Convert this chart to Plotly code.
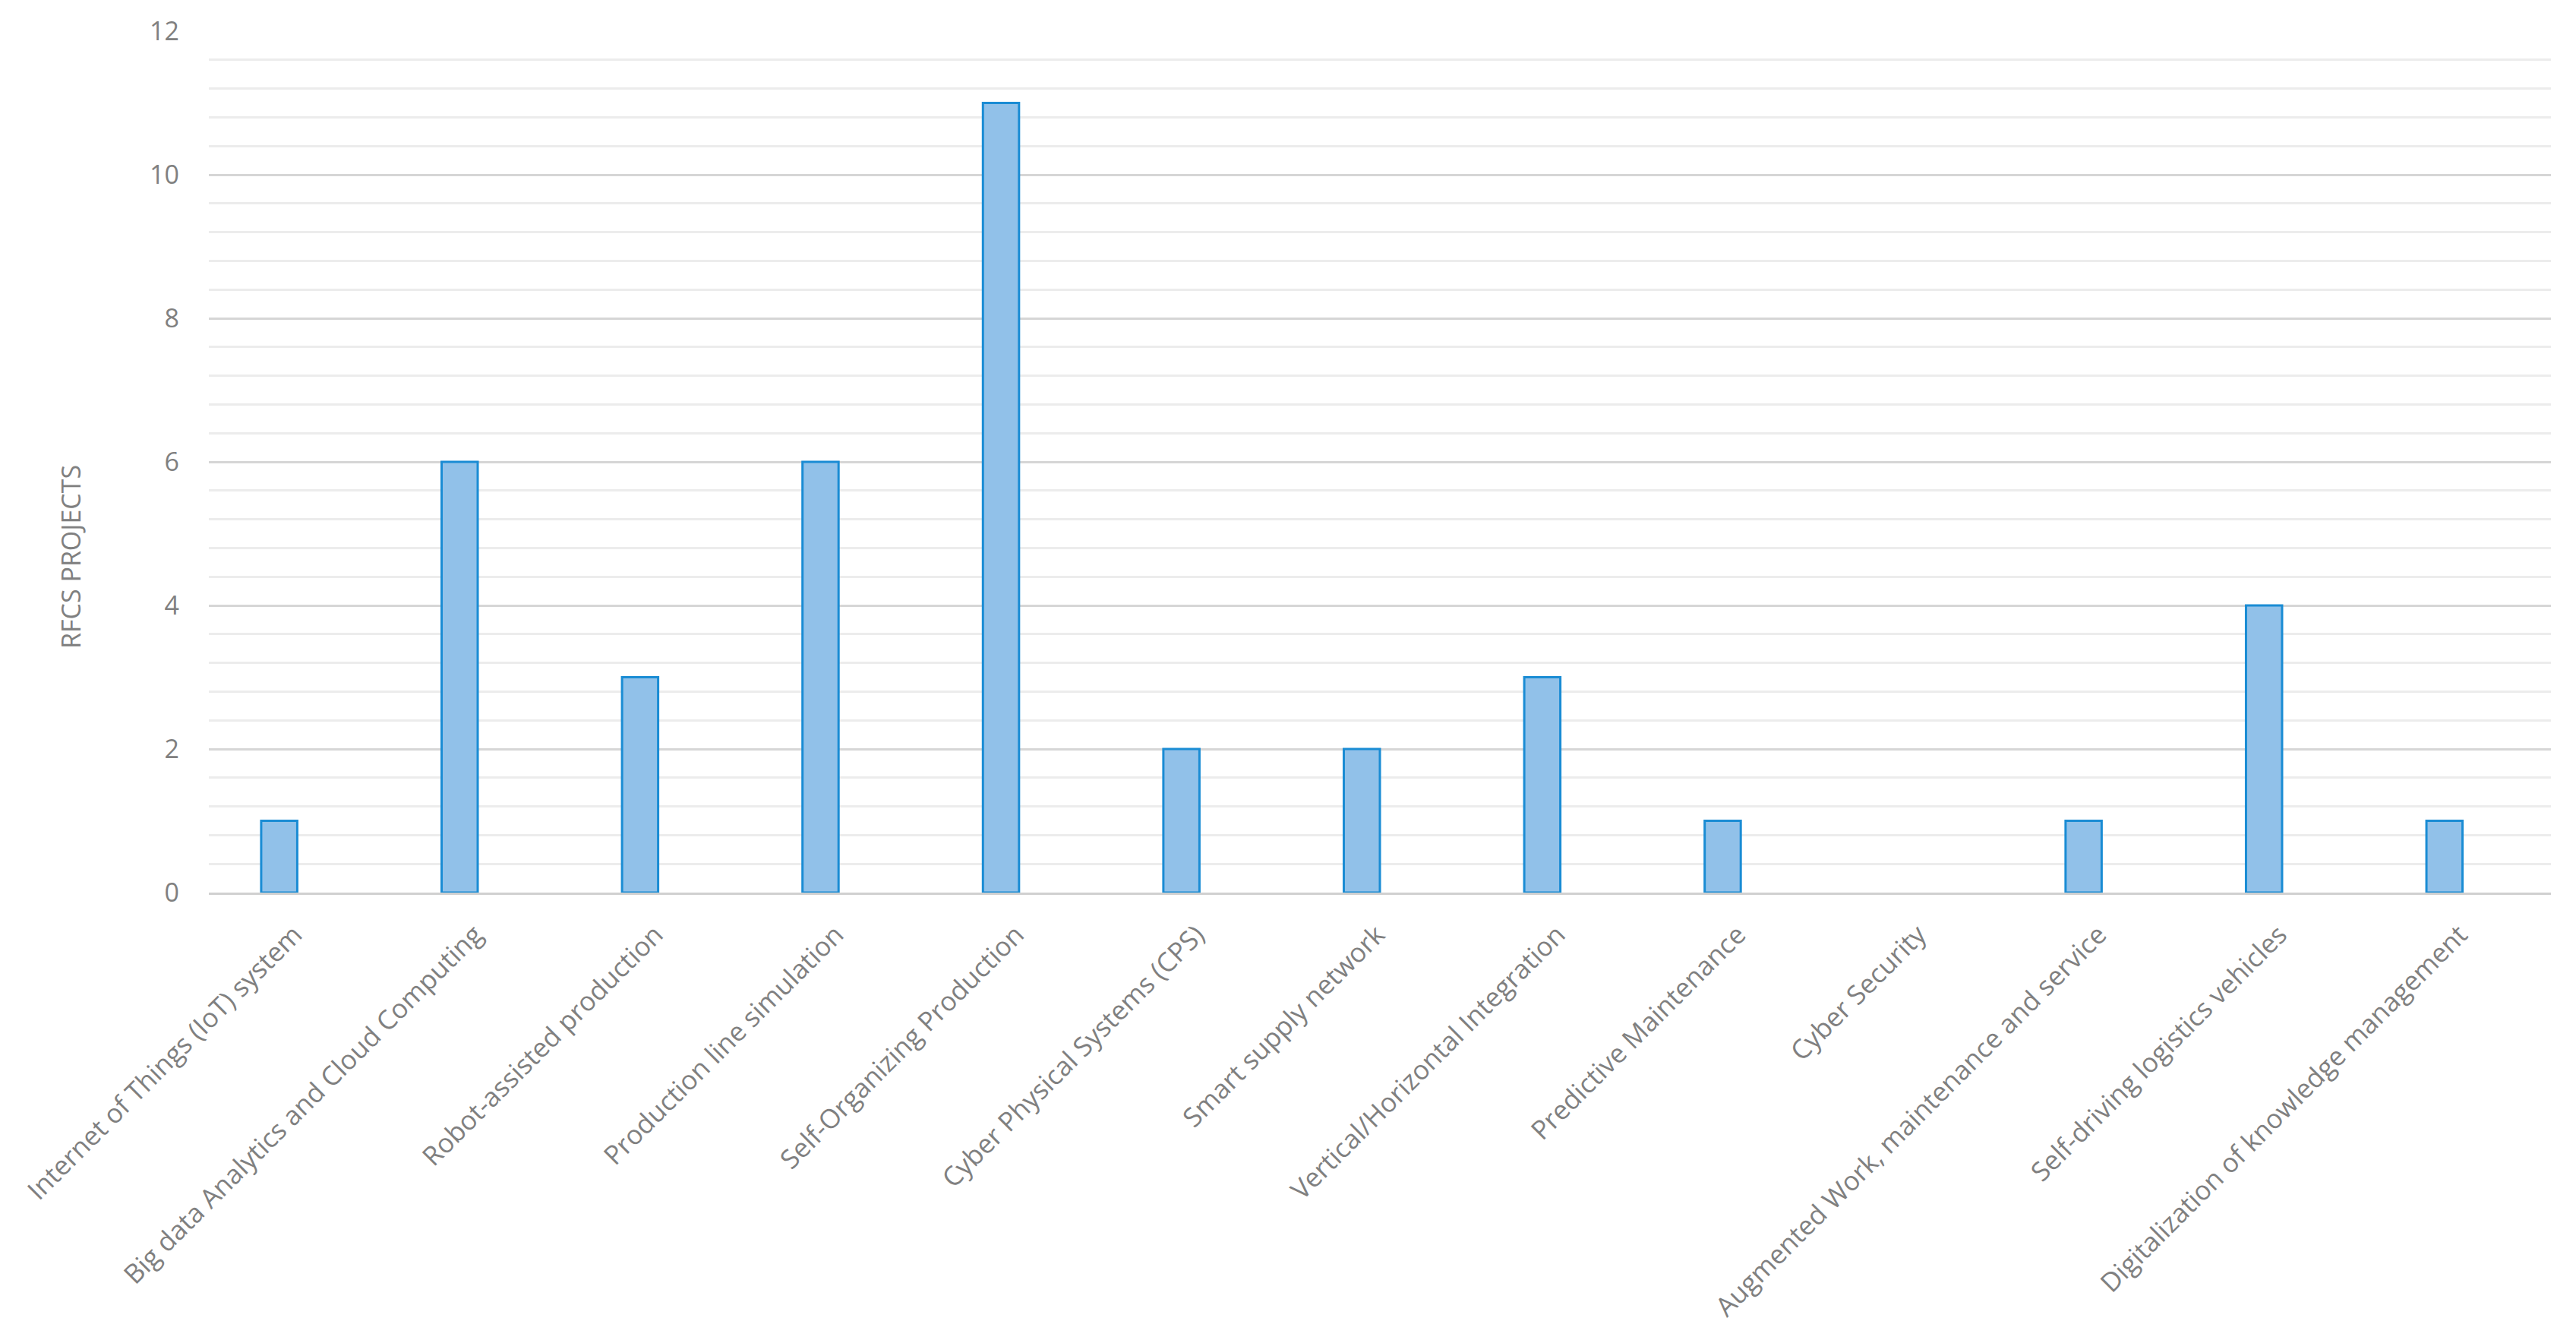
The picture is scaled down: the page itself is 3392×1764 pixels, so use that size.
import plotly.graph_objects as go

categories = [
    "Internet of Things (IoT) system",
    "Big data Analytics and Cloud Computing",
    "Robot-assisted production",
    "Production line simulation",
    "Self-Organizing Production",
    "Cyber Physical Systems (CPS)",
    "Smart supply network",
    "Vertical/Horizontal Integration",
    "Predictive Maintenance",
    "Cyber Security",
    "Augmented Work, maintenance and service",
    "Self-driving logistics vehicles",
    "Digitalization of knowledge management",
]
projects = [1, 6, 3, 6, 11, 2, 2, 3, 1, 0, 1, 4, 1]
y_ticks = [0, 2, 4, 6, 8, 10, 12]

FONT = "'Open Sans', sans-serif"
GRAY = "#808080"

fig = go.Figure(
    go.Bar(
        x=categories,
        y=projects,
        width=0.2,
        marker=dict(
            color="rgb(145,193,233)",
            line=dict(color="rgb(26,140,212)", width=[3 if v > 0 else 0 for v in projects]),
        ),
    )
)

fig.update_layout(
    width=3384,
    height=1756,
    paper_bgcolor="white",
    plot_bgcolor="white",
    showlegend=False,
    margin=dict(l=267, r=33, t=33, b=589),
    font=dict(family=FONT, color=GRAY, size=35),
)

fig.update_xaxes(
    type="category",
    range=[-0.39, 12.59],
    tickangle=-45,
    tickfont=dict(family=FONT, size=35, color=GRAY),
    ticklabelstandoff=18,
    ticklabelshift=20,
    showgrid=False,
    showline=True,
    linecolor="#d0d0d0",
    linewidth=3,
    ticks="",
    automargin=False,
)

fig.update_yaxes(
    range=[0, 12],
    tickvals=y_ticks,
    ticktext=[str(v) for v in y_ticks],
    tickfont=dict(family=FONT, size=34, color=GRAY),
    ticks="",
    ticklabelstandoff=38,
    showgrid=True,
    gridcolor="#d6d6d6",
    gridwidth=3,
    zeroline=False,
    showline=False,
    automargin=False,
    minor=dict(dtick=0.4, showgrid=True, gridcolor="#ececec", gridwidth=3),
)

fig.add_annotation(
    text="RFCS PROJECTS",
    xref="paper", yref="paper",
    x=(93 - 275) / 3084, y=(1175 - 733) / 1134,
    xanchor="center", yanchor="middle",
    textangle=-90,
    showarrow=False,
    font=dict(family=FONT, size=34, color=GRAY),
)

fig.write_html("out.html")
